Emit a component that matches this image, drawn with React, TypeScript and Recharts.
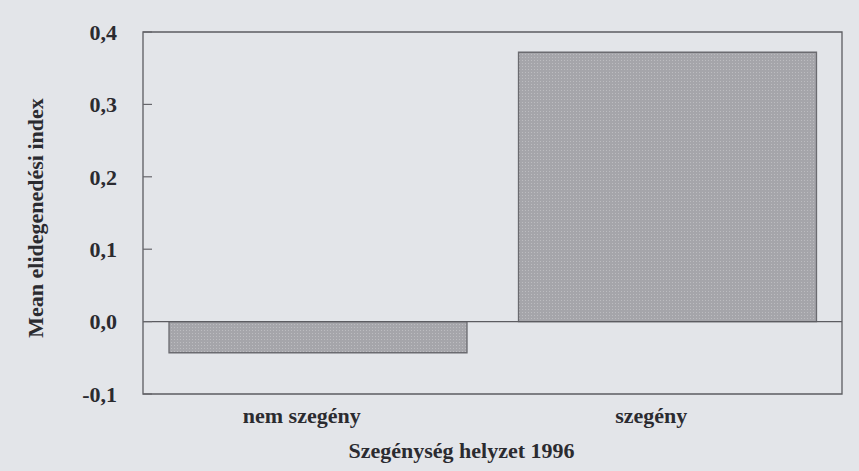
import { BarChart, Bar, XAxis, YAxis, ReferenceLine, ReferenceArea, Label } from 'recharts'

// Szegénységi helyzet szerinti átlagos elidegenedési index
const categories = ['nem szegény', 'szegény']
const meanIndex = [-0.043, 0.372]
const yTicks = [-0.1, 0, 0.1, 0.2, 0.3, 0.4]

const PAPER = '#e3e5e9'
const INK = '#2b2b30'
const FONT = '"Liberation Serif", "DejaVu Serif", serif'
const PLOT_LEFT = 143

const data = categories.map((c, i) => ({ name: c, value: meanIndex[i] }))

const fmt = (v: number) => v.toFixed(1).replace('.', ',')

// bal oldali tengely: szám + befelé mutató kis osztásjel
function YTick({ x, y, payload }: { x?: number; y?: number; payload?: { value: number } }) {
  if (x == null || y == null || !payload) return null
  return (
    <g>
      <text
        x={x}
        y={y}
        dy="0.35em"
        textAnchor="end"
        fill={INK}
        fontFamily={FONT}
        fontWeight="bold"
        fontSize={22}
      >
        {fmt(payload.value)}
      </text>
      <line x1={PLOT_LEFT} x2={PLOT_LEFT + 9} y1={y} y2={y} stroke="#66666b" strokeWidth={1.2} />
    </g>
  )
}

function YTitle({ viewBox }: { viewBox?: { x: number; y: number; width: number; height: number } }) {
  if (!viewBox) return null
  const cx = viewBox.x + 15
  const cy = viewBox.y + viewBox.height / 2 + 5
  return (
    <text
      x={cx}
      y={cy}
      transform={`rotate(-90, ${cx}, ${cy})`}
      textAnchor="middle"
      dominantBaseline="central"
      fill={INK}
      fontFamily={FONT}
      fontWeight="bold"
      fontSize={22}
    >
      Mean elidegenedési index
    </text>
  )
}

export default function App() {
  return (
    <div style={{ position: 'absolute', left: 0, top: 0, width: 859, height: 471, background: PAPER }}>
      <BarChart
        width={859}
        height={471}
        data={data}
        margin={{ top: 32, right: 17, left: 20, bottom: 9 }}
        barCategoryGap={26}
      >
        <defs>
          <pattern id="stipple" width="3" height="3" patternUnits="userSpaceOnUse">
            <rect width="3" height="3" fill="#a5a5aa" />
            <rect width="1" height="1" fill="#bcbcc0" />
          </pattern>
        </defs>

        <ReferenceArea y1={-0.1} y2={0.4} fill="none" stroke="#5c5c61" strokeWidth={1.3} ifOverflow="visible" />

        <XAxis
          dataKey="name"
          height={68}
          axisLine={false}
          tickLine={false}
          tickMargin={7}
          tick={{ fill: INK, fontFamily: FONT, fontWeight: 'bold', fontSize: 22, dx: -16 }}
        >
          <Label
            value="Szegénység helyzet 1996"
            position="insideBottom"
            offset={4}
            dx={-31}
            fill={INK}
            fontFamily={FONT}
            fontWeight="bold"
            fontSize={22}
          />
        </XAxis>
        <YAxis
          domain={[-0.1, 0.4]}
          ticks={yTicks}
          width={123}
          axisLine={false}
          tickLine={false}
          tickSize={6}
          tickMargin={20}
          tick={<YTick />}
          label={<YTitle />}
        />

        <ReferenceLine y={0} stroke="#5c5c61" strokeWidth={1.3} />

        <Bar
          dataKey="value"
          fill="url(#stipple)"
          stroke="#6b6b70"
          strokeWidth={1.3}
          isAnimationActive={false}
        />
      </BarChart>
    </div>
  )
}
